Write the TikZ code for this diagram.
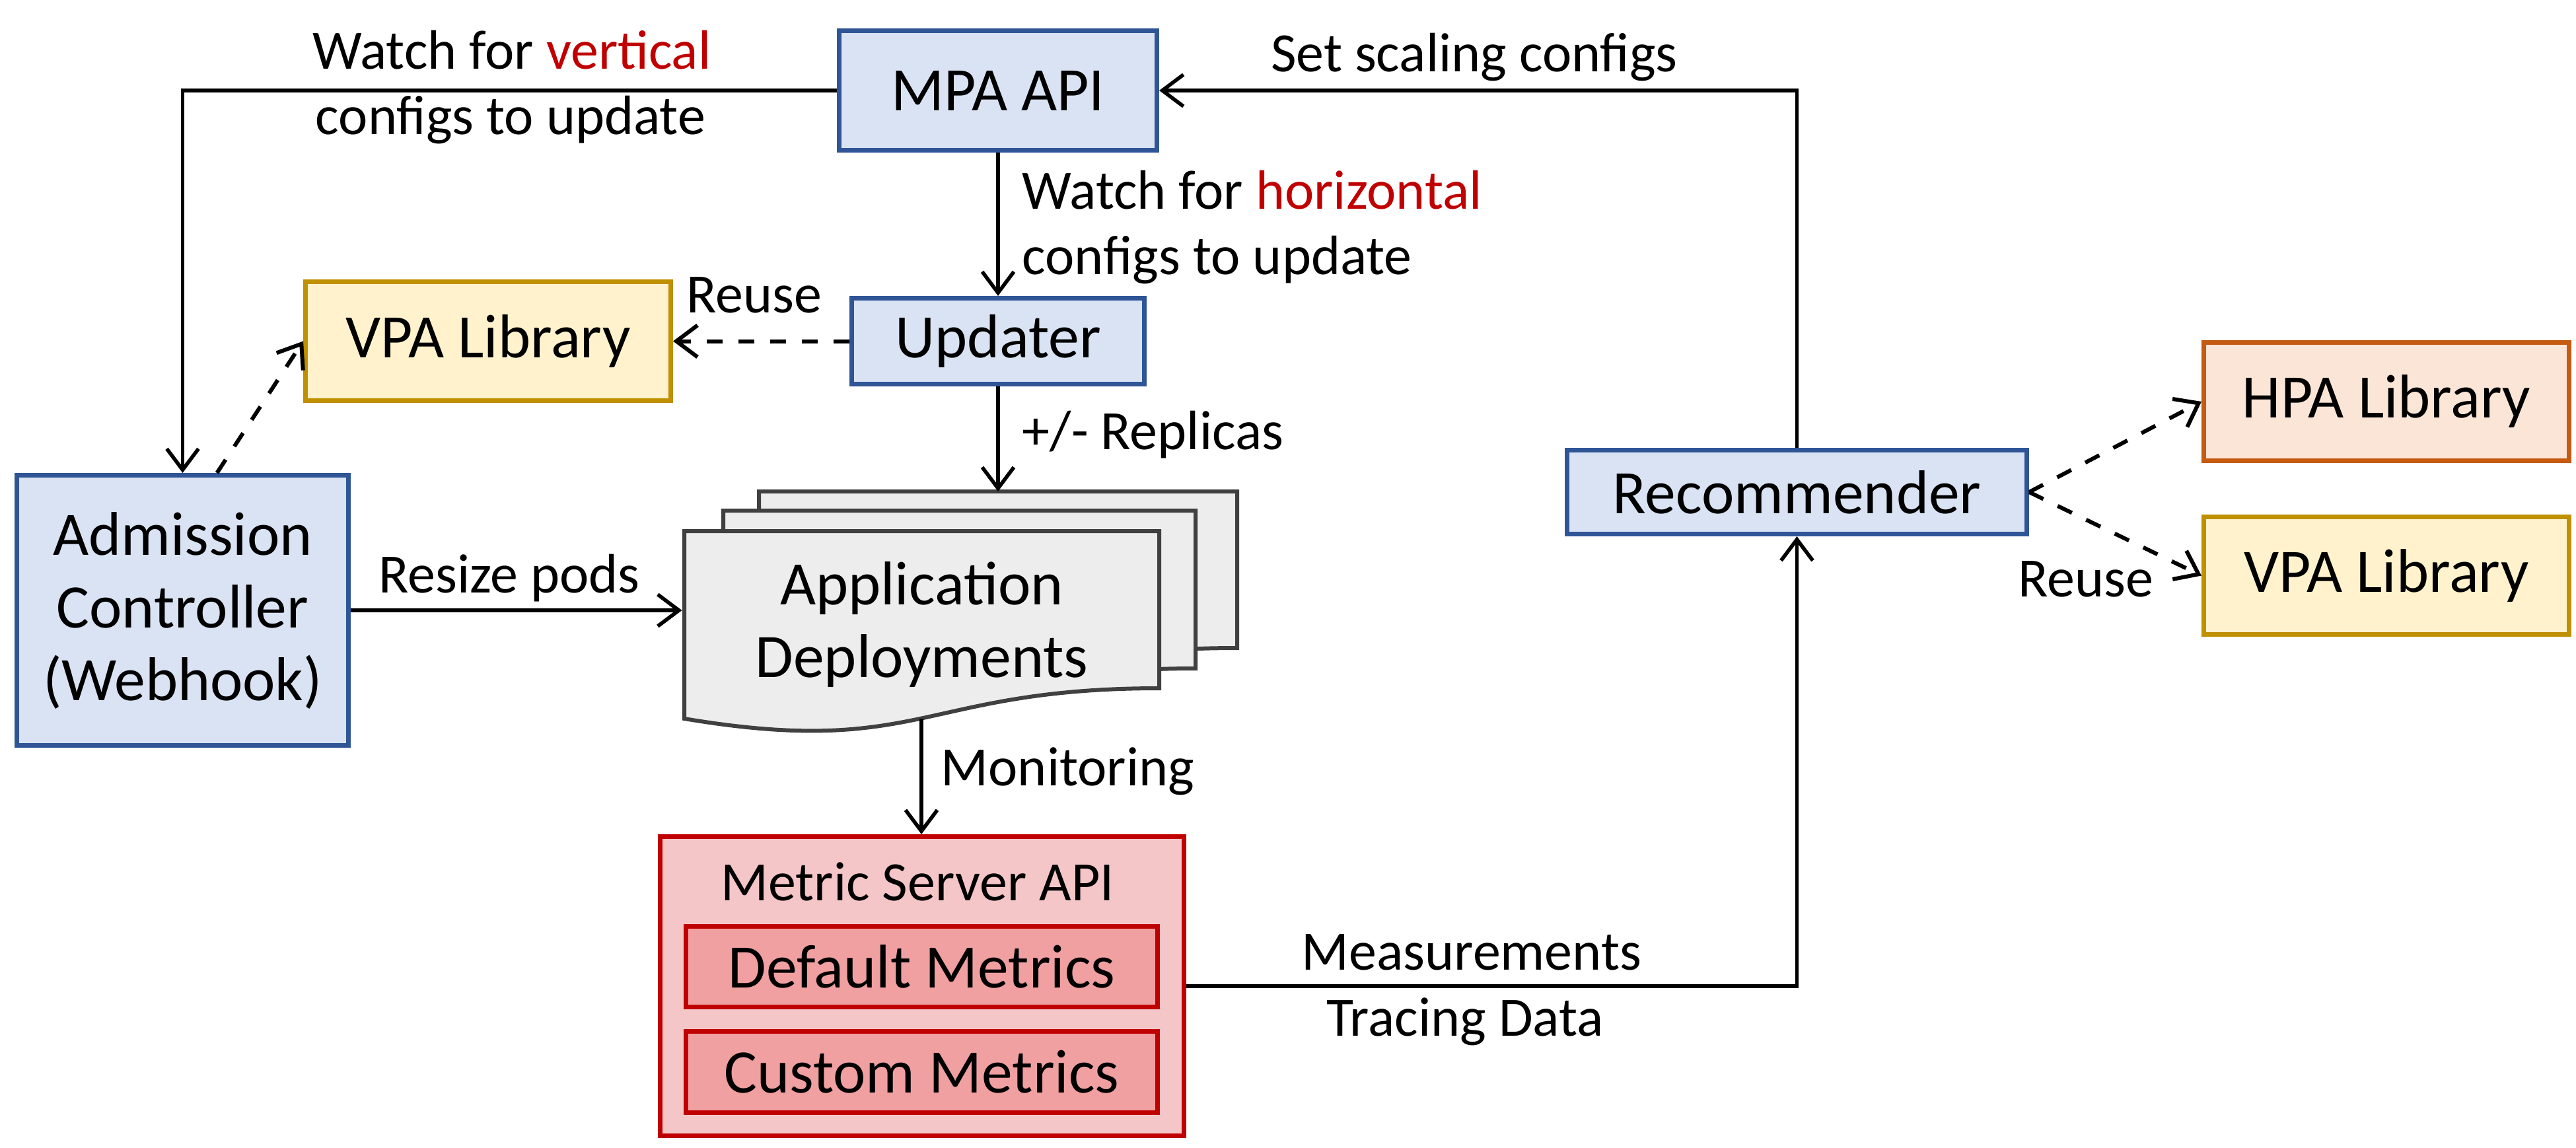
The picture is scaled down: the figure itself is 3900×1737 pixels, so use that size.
\documentclass[tikz,border=0pt]{standalone}
\usepackage{fontspec}
\setmainfont{Carlito}
\usetikzlibrary{arrows.meta}
\definecolor{bfill}{HTML}{DAE3F3}
\definecolor{bdraw}{HTML}{2F5597}
\definecolor{yfill}{HTML}{FFF2CC}
\definecolor{ydraw}{HTML}{BF9000}
\definecolor{ofill}{HTML}{FBE5D6}
\definecolor{odraw}{HTML}{C55A11}
\definecolor{rfillout}{HTML}{F4C6C7}
\definecolor{rfillin}{HTML}{F0A0A1}
\definecolor{rdraw}{HTML}{C00000}
\definecolor{pfill}{HTML}{EDEDED}
\definecolor{pdraw}{HTML}{404040}
\definecolor{txtred}{HTML}{C00000}
\begin{document}
\begin{tikzpicture}[x=0.25pt,y=-0.25pt,
  sz/.style 2 args={minimum width=#1*0.25pt, minimum height=#2*0.25pt},
  boxbase/.style={rectangle, inner sep=0pt, line width=1.75pt, align=center,
    font=\fontsize{23.4}{27.5}\selectfont},
  bluebox/.style={boxbase, fill=bfill, draw=bdraw},
  yellowbox/.style={boxbase, fill=yfill, draw=ydraw},
  orangebox/.style={boxbase, fill=ofill, draw=odraw},
  redout/.style={boxbase, fill=rfillout, draw=rdraw},
  redin/.style={boxbase, fill=rfillin, draw=rdraw},
  page/.style={fill=pfill, draw=pdraw, line width=1.5pt, line join=miter},
  lbl/.style={inner sep=0pt, font=\fontsize{21}{25}\selectfont},
  arr/.style={line width=1.4pt, -{Straight Barb[length=8pt,width=12pt]}},
  darr/.style={arr, line width=1.5pt, dash pattern=on 6pt off 6pt},
]
\useasboundingbox (0,0) rectangle (3900,1737);

% boxes
\node[bluebox, sz={481}{181}] (mpa) at (1511,137) {MPA API};
\node[bluebox, sz={443}{130}] (upd) at (1511,516.5) {Updater};
\node[yellowbox, sz={553}{180}] (vpa1) at (739,516.5) {VPA Library};
\node[bluebox, sz={502}{409}] (adm) at (276.5,924) {Admission\\Controller\\(Webhook)};
\node[bluebox, sz={696}{127}] (rec) at (2720.5,745) {Recommender};
\node[orangebox, sz={553}{179}] (hpa) at (3613,608) {HPA Library};
\node[yellowbox, sz={553}{178}] (vpa2) at (3613,871.5) {VPA Library};

% metric server
\node[redout, sz={793}{453}] (msa) at (1396,1493) {};
\node[lbl, anchor=base] (msatitle) at (1389,1363) {Metric Server API};
\node[redin, sz={714}{122}] (dm) at (1395.5,1463.5) {Default Metrics};
\node[redin, sz={714}{123}] (cm) at (1395.5,1623) {Custom Metrics};

% application deployment pages
\draw[page] (1149,1027) -- (1149,744) -- (1873,744) -- (1873,981)
  .. controls (1511,981) and (1511,1087) .. (1149,1027) -- cycle;
\draw[page] (1095,1058) -- (1095,773) -- (1810,773) -- (1810,1012)
  .. controls (1452,1012) and (1452,1118) .. (1095,1058) -- cycle;
\draw[page] (1036,1088) -- (1036,804) -- (1755,804) -- (1755,1042)
  .. controls (1395,1042) and (1395,1148) .. (1036,1088) -- cycle;
\node[boxbase, sz={719}{284}] (app) at (1395.5,946) {Application\\Deployments};
\coordinate (apptop) at (1510,744);
\coordinate (appbot) at (1395,1088);

% connectors
\draw[arr] (mpa.west) -| (adm.north);
\node[lbl, anchor=base] (lv1) at (775,104) {Watch for \textcolor{txtred}{vertical}};
\node[lbl, anchor=base] (lv2) at (773,203) {configs to update};

\draw[arr] (rec.north) |- (mpa.east);
\node[lbl, anchor=base] (lset) at (2232,108) {Set scaling configs};

\draw[arr] (mpa.south) -- (upd.north);
\node[lbl, anchor=base west] (lh1) at (1547,316) {Watch for \textcolor{txtred}{horizontal}};
\node[lbl, anchor=base west] (lh2) at (1547,415) {configs to update};

\draw[darr] (upd.west) -- (vpa1.east);
\node[lbl, anchor=base west] (lreuse1) at (1039,473) {Reuse};

\draw[darr] ([xshift=13pt]adm.north) -- (vpa1.west);

\draw[arr] (upd.south) -- (upd.south |- apptop);
\node[lbl, anchor=base west] (lrep) at (1547,680) {+/- Replicas};

\draw[arr] (adm.east) -- (adm.east -| app.west);
\node[lbl, anchor=base] (lresize) at (771,897) {Resize pods};

\draw[arr] (appbot) -- (appbot |- msa.north);
\node[lbl, anchor=base west] (lmon) at (1424,1189) {Monitoring};

\draw[arr] (msa.east) -| (rec.south);
\node[lbl, anchor=base] (lmeas) at (2228,1468) {Measurements};
\node[lbl, anchor=base] (ltrace) at (2218,1568) {Tracing Data};

\draw[darr] (rec.east) -- (hpa.west);
\draw[darr] (rec.east) -- (vpa2.west);
\node[lbl, anchor=base] (lreuse2) at (3158,903) {Reuse};
\end{tikzpicture}
\end{document}
